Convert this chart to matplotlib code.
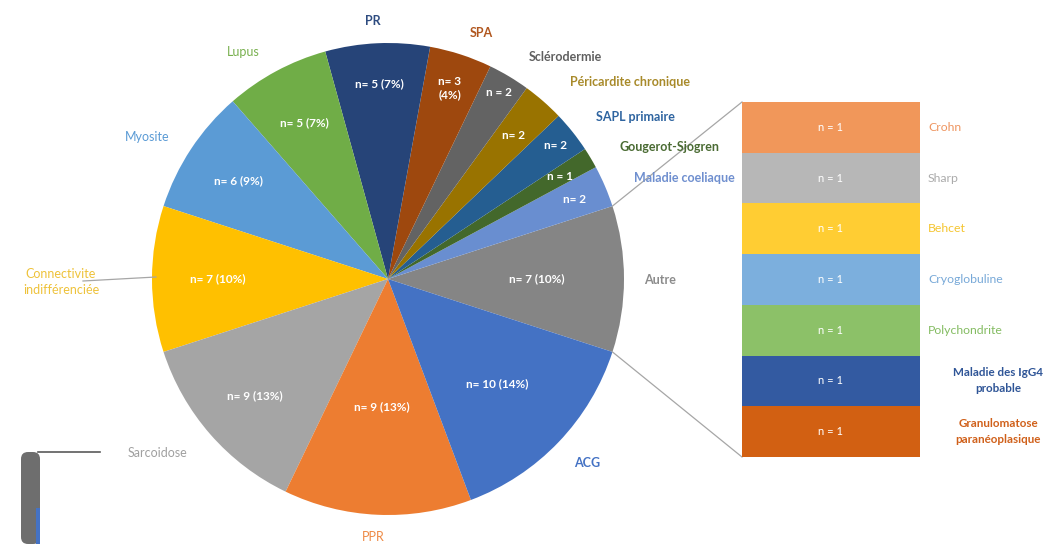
import numpy as np
import matplotlib
matplotlib.use('Agg')
import matplotlib.pyplot as plt
from matplotlib.patches import FancyBboxPatch, Rectangle
from matplotlib.transforms import blended_transform_factory

plt.rcParams['font.family'] = ['Lato', 'DejaVu Sans']

# ---------------- data ----------------
pie_labels = ['Autre', 'Maladie coeliaque', 'Gougerot-Sjogren', 'SAPL primaire',
              'Péricardite chronique', 'Sclérodermie', 'SPA', 'PR', 'Lupus', 'Myosite',
              'Connectivite\nindifférenciée', 'Sarcoidose', 'PPR', 'ACG']
pie_values = [7, 2, 1, 2, 2, 2, 3, 5, 5, 6, 7, 9, 9, 10]
pie_inner = ['n= 7 (10%)', 'n= 2', 'n = 1', 'n= 2', 'n= 2', 'n = 2', 'n= 3\n(4%)',
             'n= 5 (7%)', 'n= 5 (7%)', 'n= 6 (9%)', 'n= 7 (10%)', 'n= 9 (13%)',
             'n= 9 (13%)', 'n= 10 (14%)']
pie_colors = ['#858585', '#698ED0', '#43682B', '#255E91', '#997300', '#636363', '#9E480E',
              '#264478', '#70AD47', '#5B9BD5', '#FFC000', '#A5A5A5', '#ED7D31', '#4472C4']
pie_text_colors = ['#8C8C8C', '#6F8FCF', '#4A6B33', '#2E64A0', '#A88A2A', '#606060', '#B0561E',
                   '#2E4C80', '#78B04E', '#5B9BD5', '#EEC23A', '#A0A0A0', '#EE8A45', '#4472C4']
pie_label_bold = [True, True, True, True, True, True, True, True, False, False, False, False, False, True]

bar_labels = ['Crohn', 'Sharp', 'Behcet', 'Cryoglobuline', 'Polychondrite',
              'Maladie des IgG4\nprobable', 'Granulomatose\nparanéoplasique']
bar_values = [1, 1, 1, 1, 1, 1, 1]
bar_inner = ['n = 1', 'n = 1', 'n = 1', 'n = 1', 'n = 1', 'n = 1', 'n = 1']
bar_colors = ['#F1975A', '#B7B7B7', '#FFCD33', '#7CAFDD', '#8CC168', '#335AA1', '#D26012']
bar_text_colors = ['#EE9560', '#ABABAB', '#F5C530', '#78A9D8', '#84BC62', '#2F5597', '#D0601A']
bar_label_bold = [False, False, False, False, False, True, True]

# ---------------- layout ----------------
W, H = 1045, 544
def Y(y):
    return H - y

fig = plt.figure(figsize=(W / 100, H / 100), dpi=100)
ax = fig.add_axes([0, 0, 1, 1])

cx, cy, R = 388, Y(279), 236
wedges, _ = ax.pie(pie_values, colors=pie_colors, startangle=-18, counterclock=True,
                   center=(cx, cy), radius=R, wedgeprops=dict(linewidth=0))
ax.set_xlim(0, W)
ax.set_ylim(0, H)
ax.set_aspect('auto')
ax.axis('off')

# inner labels (radial fraction per wedge)
inner_r = [0.63, 0.86, 0.85, 0.91, 0.81, 0.92, 0.85, 0.83, 0.75, 0.76, 0.72, 0.75, 0.54, 0.64]
for w, txt, f in zip(wedges, pie_inner, inner_r):
    th = np.deg2rad((w.theta1 + w.theta2) / 2)
    ax.text(cx + f * R * np.cos(th), cy + f * R * np.sin(th), txt, color='white',
            fontsize=8.5, fontweight='bold', ha='center', va='center', linespacing=1.3)

# outer labels (image pixel positions)
outer_pos = [(660, 280), (684, 178), (669, 147), (635, 117), (630, 82), (565, 57), (481, 33),
             (373, 21), (243, 52), (147, 137), (61, 282), (157, 453), (373, 537), (587, 463)]
for lab, (x, y), c, b in zip(pie_labels, outer_pos, pie_text_colors, pie_label_bold):
    ax.text(x, Y(y), lab, color=c, fontsize=9, fontweight='bold' if b else 'normal',
            ha='center', va='center', linespacing=1.45)

# leader line for Connectivite
th_c = np.deg2rad((wedges[10].theta1 + wedges[10].theta2) / 2)
ax.plot([83, cx + R * np.cos(th_c) + 4], [Y(281), cy + R * np.sin(th_c) + 2],
        color='#A6A6A6', lw=0.9)

# ---------------- bar of pie ----------------
bx0, bx1, by0, by1 = 742, 920, 102, 457
axb = fig.add_axes([bx0 / W, Y(by1) / H, (bx1 - bx0) / W, (by1 - by0) / H])
bottoms = np.concatenate([[0], np.cumsum(bar_values)[:-1]])
axb.bar(0, bar_values, bottom=bottoms, width=1.0, color=bar_colors, linewidth=0)
axb.set_xlim(-0.5, 0.5)
axb.set_ylim(sum(bar_values), 0)
axb.axis('off')
tr = blended_transform_factory(axb.transAxes, axb.transData)
for i, (txt, lab, c, b) in enumerate(zip(bar_inner, bar_labels, bar_text_colors, bar_label_bold)):
    yc = bottoms[i] + bar_values[i] / 2
    axb.text(0.5, yc, txt, color='white', fontsize=8, ha='center', va='center', transform=tr)
    if '\n' in lab:
        axb.text(1.44, yc, lab, color=c, fontsize=8.4, fontweight='bold' if b else 'normal',
                 ha='center', va='center', transform=tr, linespacing=1.55, clip_on=False)
    else:
        axb.text(1.045, yc, lab, color=c, fontsize=8.8, fontweight='bold' if b else 'normal',
                 ha='left', va='center', transform=tr, clip_on=False)

# connector lines from the "Autre" wedge to the bar
w0 = wedges[0]
for ang, by in [(w0.theta2, by0), (w0.theta1, by1)]:
    t = np.deg2rad(ang)
    ax.plot([cx + R * np.cos(t), bx0], [cy + R * np.sin(t), Y(by)], color='#A6A6A6', lw=0.9)

# ---------------- cropped artifact bottom-left ----------------
ax.add_patch(FancyBboxPatch((21, 0), 19, Y(452), boxstyle='round,pad=0,rounding_size=7',
                            facecolor='#6E6E6E', edgecolor='none'))
ax.add_patch(Rectangle((36, 0), 4, Y(508), facecolor='#4472C4', edgecolor='none'))
ax.plot([38, 100], [Y(452), Y(452)], color='#5A5A5A', lw=1.2)

fig.savefig('out.png', dpi=100, facecolor='white')
